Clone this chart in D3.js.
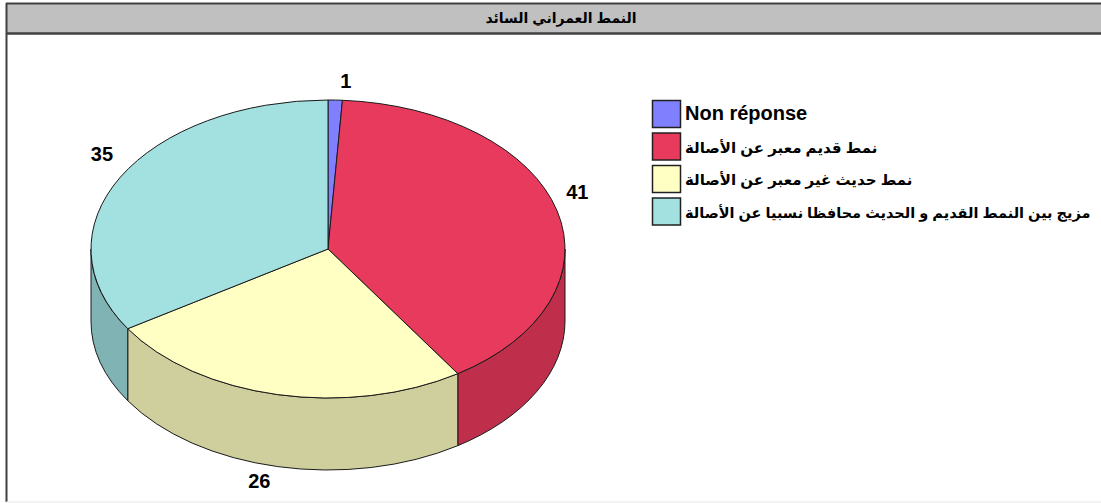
<!DOCTYPE html>
<html>
<head>
<meta charset="utf-8">
<script src="https://cdn.jsdelivr.net/npm/d3@7"></script>
<style>
  html, body { margin: 0; padding: 0; background: #fff; }
  svg { display: block; }
</style>
</head>
<body>
<svg id="chart" width="1101" height="503"></svg>
<script>
// Chart content
const title = "النمط العمراني السائد";
const categories = [
  "Non réponse",
  "نمط قديم معبر عن الأصالة",
  "نمط حديث غير معبر عن الأصالة",
  "مزيج بين النمط القديم و الحديث محافظا نسبيا عن الأصالة"
];
const values = [1, 41, 26, 35];
const topColors = ["#8080ff", "#e83a5c", "#ffffc4", "#a3e1e0"];
const sideColors = ["#6666cc", "#bf2f4b", "#cfcf9e", "#80b3b3"];

const svg = d3.select("#chart");
const W = 1101, H = 503;

// Frame and title band
svg.append("rect").attr("x", 6).attr("y", 3).attr("width", W).attr("height", 31)
  .attr("fill", "#c0c0c0");
svg.append("line").attr("x1", 6).attr("x2", W).attr("y1", 3.5).attr("y2", 3.5)
  .attr("stroke", "#404040").attr("stroke-width", 2);
svg.append("line").attr("x1", 6).attr("x2", W).attr("y1", 33.5).attr("y2", 33.5)
  .attr("stroke", "#404040").attr("stroke-width", 2.5);
svg.append("line").attr("x1", 6.5).attr("x2", 6.5).attr("y1", 3).attr("y2", 502)
  .attr("stroke", "#404040").attr("stroke-width", 2);
svg.append("line").attr("x1", 6).attr("x2", W).attr("y1", 502).attr("y2", 502)
  .attr("stroke", "#e6e6e6").attr("stroke-width", 1);

svg.append("text")
  .attr("x", 561).attr("y", 23)
  .attr("text-anchor", "middle")
  .attr("font-family", "Arial, 'Liberation Sans', 'DejaVu Sans', sans-serif")
  .attr("font-weight", "bold")
  .attr("font-size", 14)
  .attr("fill", "#000")
  .text(title);

// 3D pie geometry
const cx = 328, cy = 249, rx = 237, ry = 149, depth = 72;
const pie = d3.pie().sort(null).value(d => d).startAngle(0).endAngle(2 * Math.PI);
const arcs = pie(values);

const px = a => cx + rx * Math.sin(a);
const py = a => cy - ry * Math.cos(a);

function topPath(d) {
  const large = (d.endAngle - d.startAngle) > Math.PI ? 1 : 0;
  return `M${cx},${cy} L${px(d.startAngle)},${py(d.startAngle)} ` +
    `A${rx},${ry} 0 ${large} 1 ${px(d.endAngle)},${py(d.endAngle)} Z`;
}

function sidePath(d) {
  // only the front half of the rim (angles between pi/2 and 3pi/2) is visible
  const s = Math.max(d.startAngle, Math.PI / 2);
  const e = Math.min(d.endAngle, 3 * Math.PI / 2);
  if (e <= s) return null;
  return `M${px(s)},${py(s)} A${rx},${ry} 0 0 1 ${px(e)},${py(e)} ` +
    `L${px(e)},${py(e) + depth} A${rx},${ry} 0 0 0 ${px(s)},${py(s) + depth} Z`;
}

const g = svg.append("g");

g.selectAll("path.side")
  .data(arcs.filter(d => sidePath(d)))
  .join("path")
  .attr("class", "side")
  .attr("d", sidePath)
  .attr("fill", d => sideColors[d.index])
  .attr("stroke", "#1a1a1a")
  .attr("stroke-width", 1)
  .attr("stroke-linejoin", "round");

g.selectAll("path.top")
  .data(arcs)
  .join("path")
  .attr("class", "top")
  .attr("d", topPath)
  .attr("fill", d => topColors[d.index])
  .attr("stroke", "#1a1a1a")
  .attr("stroke-width", 1)
  .attr("stroke-linejoin", "round");

// Value labels placed outside the rim
const lrx = 258, lry = 168;
g.selectAll("text.val")
  .data(arcs)
  .join("text")
  .attr("class", "val")
  .attr("x", d => {
    const a = (d.startAngle + d.endAngle) / 2;
    const c = Math.cos(a);
    return cx + lrx * Math.sin(a) + (d.index === 0 ? 10 : 0) + (c < -0.9 ? -14 : 0);
  })
  .attr("y", d => {
    const a = (d.startAngle + d.endAngle) / 2;
    const c = Math.cos(a);
    return cy - lry * c + (c < 0 ? depth - 4 : 0) + 7 - (Math.abs(Math.sin(a)) > 0.8 ? 14 : 0);
  })
  .attr("text-anchor", "middle")
  .attr("font-family", "Arial, 'Liberation Sans', sans-serif")
  .attr("font-weight", "bold")
  .attr("font-size", 20)
  .attr("fill", "#000")
  .text(d => d.data);

// Legend
const legend = svg.append("g").attr("transform", "translate(652,100)");
const rowH = 32.5;
const item = legend.selectAll("g.item")
  .data(categories)
  .join("g")
  .attr("class", "item")
  .attr("transform", (d, i) => `translate(0,${i * rowH})`);

item.append("rect")
  .attr("x", 0.5).attr("y", 0.5)
  .attr("width", 28).attr("height", 27)
  .attr("fill", (d, i) => topColors[i])
  .attr("stroke", "#202020")
  .attr("stroke-width", 1.5);

const labelX = 33;
const maxWidth = W - 652 - labelX - 10;
item.append("text")
  .attr("x", labelX)
  .attr("y", 20)
  .attr("text-anchor", "start")
  .attr("font-family", "Arial, 'Liberation Sans', 'DejaVu Sans', sans-serif")
  .attr("font-weight", "bold")
  .attr("font-size", (d, i) => i === 0 ? 20 : 15)
  .attr("fill", "#000")
  .text(d => d)
  .each(function () {
    // squeeze any label that would run past the right edge
    const w = this.getBBox().width;
    if (w > maxWidth) {
      d3.select(this).attr("font-size", 15 * maxWidth / w);
    }
  });
</script>
</body>
</html>
